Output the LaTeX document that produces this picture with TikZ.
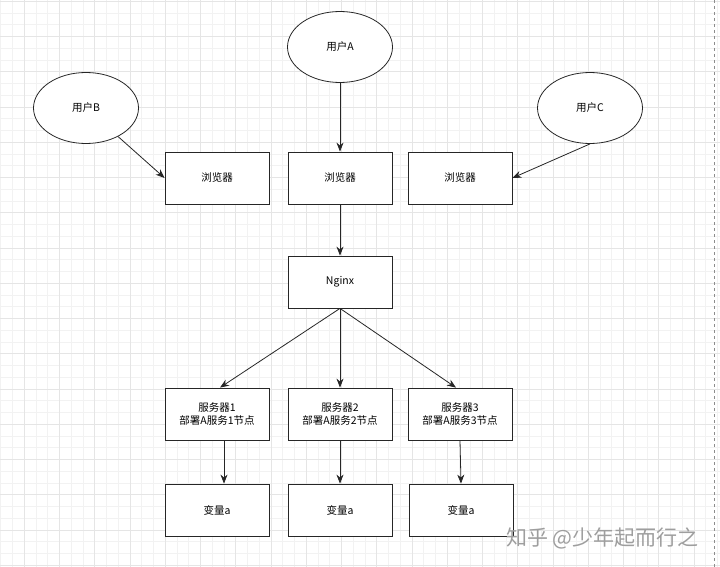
\documentclass[tikz,border=0pt]{standalone}
\usepackage{fontspec}
\setmainfont{Noto Sans CJK SC}
\usetikzlibrary{arrows.meta,shapes.geometric}
\tikzset{
  minorgrid/.style={draw=black!5, line width=0.5pt},
  majorgrid/.style={draw=black!10, line width=0.5pt},
  box/.style={draw=black!85, line width=0.8pt, fill=white, minimum width=104pt, minimum height=52pt, inner sep=0pt, align=center, font=\fontsize{10.5}{13}\selectfont},
  user/.style={ellipse, draw=black!85, line width=0.8pt, fill=white, minimum width=105pt, minimum height=71pt, inner sep=0pt, font=\fontsize{10.5}{13}\selectfont},
  arr/.style={draw=black!85, line width=0.8pt, -{Stealth[length=9pt,width=7pt]}}
}
\begin{document}
\begin{tikzpicture}[x=1pt,y=-1pt]
\useasboundingbox (0,0) rectangle (720,567);
\fill[white] (0,0) rectangle (720,567);
% grid
\foreach \i in {0,...,61} { \draw[minorgrid] ({0.5+11.75*\i},0) -- ++(0,567); }
\foreach \j in {0,...,48} { \draw[minorgrid] (0,{1.2+11.75*\j}) -- ++(720,0); }
\foreach \i in {0,...,19} { \draw[majorgrid] ({24+35.25*\i},0) -- ++(0,567); }
\foreach \j in {0,...,16} { \draw[majorgrid] (0,{1.2+35.25*\j}) -- ++(720,0); }
\draw[black!45, line width=0.6pt, dash pattern=on 3pt off 3pt] (714,0) -- (714,567);

% users
\node[user] (uA) at (340,47) {用户A};
\node[user] (uB) at (86,108) {用户B};
\node[user] (uC) at (590,108) {用户C};

% browsers
\node[box] (b1) at (217,178) {浏览器};
\node[box] (b2) at (340,178) {浏览器};
\node[box] (b3) at (460,178) {浏览器};

\node[box] (ng) at (340,282) {Nginx};

% servers
\node[box] (s1) at (217,414) {服务器1\\部署A服务1节点};
\node[box] (s2) at (340,414) {服务器2\\部署A服务2节点};
\node[box] (s3) at (460,414) {服务器3\\部署A服务3节点};

% variables
\node[box] (v1) at (217,510) {变量a};
\node[box] (v2) at (340,510) {变量a};
\node[box] (v3) at (461,510) {变量a};

% connectors
\draw[arr] (uA) -- (b2);
\draw[arr] (uB) -- (b1.west);
\draw[arr] (uC.south) -- (b3.east);
\draw[arr] (b2) -- (ng);
\draw[arr] (ng.south) -- ([xshift=3pt]s1.north);
\draw[arr] (ng.south) -- (s2.north);
\draw[arr] (ng.south) -- ([xshift=-4pt]s3.north);
\draw[arr] ([xshift=7pt]s1.south) -- ([xshift=7pt]v1.north);
\draw[arr] (s2) -- (v2);
\draw[arr] (s3.south) -- (v3.north);

% watermark
\node[text=black!38, font=\fontsize{21}{21}\selectfont, anchor=west, inner sep=0pt] (wm) at (506,538) {知乎 @少年起而行之};
\end{tikzpicture}
\end{document}
